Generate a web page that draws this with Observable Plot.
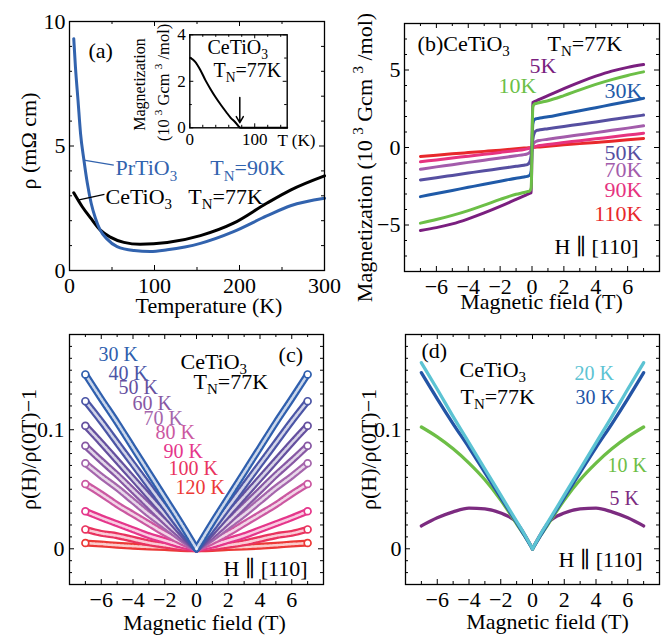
<!DOCTYPE html>
<html><head><meta charset="utf-8">
<script src="https://cdn.jsdelivr.net/npm/d3@7"></script>
<script src="https://cdn.jsdelivr.net/npm/@observablehq/plot@0.6"></script>
<style>
body{margin:0;background:#fff;}
#fig{position:relative;width:668px;height:636px;overflow:hidden;background:#fff;}
#fig > div{position:absolute;}
svg{overflow:visible;}
</style></head><body><div id="fig"></div>
<script>
// ---------------- DATA ----------------
// (a) resistivity vs temperature
const tempCe = [5, 15, 25, 36, 48, 64, 83, 115, 154, 193, 232, 260, 300];
const rhoCe  = [3.12, 2.56, 2.10, 1.63, 1.34, 1.13, 1.05, 1.12, 1.40, 1.90, 2.70, 3.23, 3.80];
const tempPr = [5, 7, 10, 13, 17, 21, 25.5, 30.5, 36, 44, 56, 76, 95, 115, 154, 193, 232, 260, 300];
const rhoPr  = [9.31, 8.17, 6.84, 5.50, 4.43, 3.50, 2.70, 2.10, 1.63, 1.27, 0.96, 0.80, 0.76, 0.83, 1.09, 1.56, 2.19, 2.60, 2.90];
// (a) inset: magnetization vs T
const insetT = [1, 8, 16, 24, 32, 40, 48, 56, 63, 70, 75, 78, 100, 150];
const insetM = [3.01, 2.85, 2.5, 2.05, 1.66, 1.3, 0.98, 0.68, 0.43, 0.24, 0.07, 0, 0, 0];
const insetArrow = [{T: 77, from: 1.3, to: 0.22}];

// (b) magnetization vs field
const fieldB = [-7,-6,-5,-4,-3,-2,-1,-0.5,-0.3,-0.15,-0.05,0,0.05,0.15,0.3,0.5,1,2,3,4,5,6,7];
const mag5K  = [-5.35,-5.17,-4.93,-4.60,-4.22,-3.80,-3.35,-3.12,-3.03,-2.96,-2.90,0,2.90,2.96,3.03,3.12,3.35,3.80,4.22,4.60,4.93,5.17,5.35];
const mag10K = [-4.88,-4.65,-4.38,-4.07,-3.72,-3.35,-3.02,-2.90,-2.85,-2.80,-2.60,0,2.60,2.80,2.85,2.90,3.02,3.35,3.72,4.07,4.38,4.65,4.88];
const mag30K = [-3.17,-2.97,-2.77,-2.57,-2.37,-2.18,-1.98,-1.90,-1.86,-1.80,-1.50,0,1.50,1.80,1.86,1.90,1.98,2.18,2.37,2.57,2.77,2.97,3.17];
const mag50K = [-2.09,-1.95,-1.80,-1.65,-1.50,-1.36,-1.21,-1.14,-1.10,-0.95,-0.50,0,0.50,0.95,1.10,1.14,1.21,1.36,1.50,1.65,1.80,1.95,2.09];
const mag70K = [-1.40,-1.25,-1.11,-0.96,-0.82,-0.68,-0.53,-0.46,-0.41,-0.32,-0.15,0,0.15,0.32,0.41,0.46,0.53,0.68,0.82,0.96,1.11,1.25,1.40];
const mag90K = [-0.92,-0.80,-0.68,-0.56,-0.44,-0.32,-0.20,-0.13,-0.09,-0.05,-0.02,0,0.02,0.05,0.09,0.13,0.20,0.32,0.44,0.56,0.68,0.80,0.92];
const mag110K= [-0.58,-0.50,-0.41,-0.33,-0.25,-0.17,-0.08,-0.04,-0.025,-0.012,-0.004,0,0.004,0.012,0.025,0.04,0.08,0.17,0.25,0.33,0.41,0.50,0.58];

// (c) magnetoresistance, 30 K ... 120 K
const fieldC = [-7,-6,-5,-4,-3,-2,-1,0,1,2,3,4,5,6,7];
const mrC30  = [.1465,.126,.106,.085,.064,.043,.022,0,.022,.043,.064,.085,.106,.126,.1465];
const mrC40  = [.124,.107,.089,.071,.053,.035,.017,0,.017,.035,.053,.071,.089,.107,.124];
const mrC50  = [.1034,.089,.074,.059,.044,.029,.014,0,.014,.029,.044,.059,.074,.089,.1034];
const mrC60  = [.0865,.074,.062,.049,.036,.023,.011,0,.011,.023,.036,.049,.062,.074,.0865];
const mrC70  = [.0718,.061,.051,.040,.029,.019,.009,0,.009,.019,.029,.040,.051,.061,.0718];
const mrC80  = [.0544,.046,.037,.029,.021,.013,.006,0,.006,.013,.021,.029,.037,.046,.0544];
const mrC90  = [.0315,.026,.021,.016,.011,.007,.003,0,.003,.007,.011,.016,.021,.026,.0315];
const mrC100 = [.0163,.013,.011,.008,.005,.003,.001,0,.001,.003,.005,.008,.011,.013,.0163];
const mrC120 = [.0048,.004,.003,.0022,.0015,.001,.0003,0,.0003,.001,.0015,.0022,.003,.004,.0048];
const labelsCtemps = ["30 K","40 K","50 K","60 K","70 K","80 K","90 K","100 K","120 K"];

// (d) magnetoresistance, 5 K ... 30 K
const fieldD = [-7,-6,-5,-4,-3,-2,-1,-0.5,0,0.5,1,2,3,4,5,6,7];
const mrD5   = [.0192,.026,.031,.0342,.0335,.030,.022,.012,0,.012,.022,.030,.0335,.0342,.031,.026,.0192];
const mrD10  = [.1023,.094,.084,.072,.058,.041,.021,.011,0,.011,.021,.041,.058,.072,.084,.094,.1023];
const mrD20  = [.1563,.134,.111,.089,.067,.045,.023,.012,0,.012,.023,.045,.067,.089,.111,.134,.1563];
const mrD30  = [.1479,.126,.105,.085,.064,.043,.022,.011,0,.011,.022,.043,.064,.085,.105,.126,.1479];

// tick values
const ticksA_x = [0,100,200,300], ticksA_xMinor = [50,150,250];
const ticksA_y = [0,5,10], ticksA_yMinor = [1,2,3,4,6,7,8,9];
const ticksH = [-6,-4,-2,0,2,4,6], ticksH_minor = [-7,-5,-3,-1,1,3,5,7];
const ticksB_y = [-5,0,5], ticksB_yMinor = [-7,-6,-4,-3,-2,-1,1,2,3,4,6,7];
const ticksMR = [0,0.1], ticksMR_minor = [-0.02,-0.01,0.01,0.02,0.03,0.04,0.05,0.06,0.07,0.08,0.09,0.11,0.12,0.13,0.14,0.15,0.16,0.17];
const ticksIn_x = [0,100], ticksIn_xMinor = [20,40,60,80,120,140];
const ticksIn_y = [0,2,4], ticksIn_yMinor = [1,3];

// ---------------- HELPERS ----------------
const SERIF = '"Liberation Serif","DejaVu Serif",serif';
const fig = document.getElementById("fig");
const fmt = d => (d < 0 ? "\u2212" + Math.abs(d) : String(d));
const MID = {textAnchor: "middle", lineAnchor: "middle"};

function richify(svg) {
  svg.querySelectorAll("text").forEach(t => {
    if (t.querySelector("tspan")) return;
    const s = t.textContent;
    if (!/[_^]/.test(s)) return;
    const fs = parseFloat(getComputedStyle(t).fontSize) || 20;
    t.textContent = "";
    const re = /([_^])\{([^}]*)\}|([_^])([^_^])|([^_^]+)/g;
    let m, shift = 0;
    while ((m = re.exec(s))) {
      const ts = document.createElementNS("http://www.w3.org/2000/svg", "tspan");
      let txt, target = 0, small = false;
      if (m[5] !== undefined) txt = m[5];
      else { const k = m[1] || m[3]; txt = m[2] !== undefined ? m[2] : m[4]; target = k === "_" ? 0.25 * fs : -0.4 * fs; small = true; }
      const dy = target - shift; shift = target;
      if (dy) ts.setAttribute("dy", dy.toFixed(2));
      if (small) ts.setAttribute("font-size", (0.68 * fs).toFixed(2));
      ts.textContent = txt;
      t.appendChild(ts);
    }
  });
}

function boxTicks(xMaj, xMin, yMaj, yMin, FW, FH, maj = 5, mn = 3, sw = 1) {
  const o = {stroke: "#000", strokeWidth: sw};
  const m = [];
  for (const [vals, len] of [[xMaj, maj], [xMin, mn]]) {
    m.push(Plot.tickX(vals, {x: d => d, insetTop: FH - len, ...o}));
    m.push(Plot.tickX(vals, {x: d => d, insetBottom: FH - len, ...o}));
  }
  for (const [vals, len] of [[yMaj, maj], [yMin, mn]]) {
    m.push(Plot.tickY(vals, {y: d => d, insetRight: FW - len, ...o}));
    m.push(Plot.tickY(vals, {y: d => d, insetLeft: FW - len, ...o}));
  }
  return m;
}

function place(svg, left, top) {
  const div = document.createElement("div");
  div.style.left = left + "px"; div.style.top = top + "px";
  div.appendChild(svg); fig.appendChild(div); richify(svg);
}

function pplot(opts) {
  return Plot.plot({
    ...opts,
    style: {fontFamily: SERIF, fontSize: "22px", background: "transparent", overflow: "visible", color: "#000"}
  });
}

const zip = (xs, ys, xk, yk) => xs.map((x, i) => ({[xk]: x, [yk]: ys[i]}));
const branches = (xs, ys) => {
  const r = [];
  xs.forEach((x, i) => {
    if (x <= 0) r.push({H: x, v: ys[i], side: "L"});
    if (x >= 0) r.push({H: x, v: ys[i], side: "R"});
  });
  return r;
};

// ---------------- PANEL (a) ----------------
{
  const ml = 69, mr = 10, mt = 21, mb = 48, W = 334, H = 318;
  const FW = W - ml - mr, FH = H - mt - mb;
  const BLUE = "#3263ae";
  const leaders = [
    {x1: 16.8, y1: 4.43, x2: 52.1, y2: 4.23, c: BLUE},
    {x1: 9.8, y1: 2.83, x2: 41.1, y2: 3.06, c: "#000"}
  ];
  const labels = [
    {t: "(a)", x: 22.3, y: 8.80, c: "#000"},
    {t: "PrTiO_3", x: 54.1, y: 4.10, c: BLUE},
    {t: "T_N=90K", x: 165.7, y: 4.10, c: BLUE},
    {t: "CeTiO_3", x: 42.3, y: 2.97, c: "#000"},
    {t: "T_N=77K", x: 139.8, y: 2.97, c: "#000"}
  ];
  const svg = pplot({
    width: W, height: H, marginLeft: ml, marginRight: mr, marginTop: mt, marginBottom: mb,
    x: {domain: [0, 300]}, y: {domain: [0, 10]},
    marks: [
      ...boxTicks(ticksA_x, ticksA_xMinor, ticksA_y, ticksA_yMinor, FW, FH),
      Plot.line(zip(tempCe, rhoCe, "T", "rho"), {x: "T", y: "rho", stroke: "#000", strokeWidth: 3, curve: "monotone-x"}),
      Plot.line(zip(tempPr, rhoPr, "T", "rho"), {x: "T", y: "rho", stroke: BLUE, strokeWidth: 3, curve: "monotone-x"}),
      ...leaders.map(d => Plot.link([d], {x1: "x1", y1: "y1", x2: "x2", y2: "y2", stroke: d.c, strokeWidth: 1.3})),
      ...labels.map(d => Plot.text([d], {x: "x", y: "y", text: "t", fill: d.c, textAnchor: "start", lineAnchor: "middle", fontSize: 22})),
      Plot.axisX({ticks: ticksA_x, tickSize: 0, tickPadding: 6.5, label: null, tickFormat: fmt}),
      Plot.axisY({ticks: ticksA_y, tickSize: 0, tickPadding: 4, label: null, tickFormat: fmt}),
      Plot.text(["Temperature (K)"], {frameAnchor: "bottom", dx: 12, dy: 35.5, fontSize: 22, ...MID}),
      Plot.text(["\u03c1 (m\u03a9 cm)"], {frameAnchor: "left", dx: -41, dy: -5, rotate: -90, fontSize: 22, ...MID}),
      Plot.frame({stroke: "#000", strokeWidth: 1.3})
    ]
  });
  place(svg, 0, 0);
}

// ---------------- INSET of (a) ----------------
{
  const W = 220, H = 150, ml = 79.3, mr = 43.3, mt = 24.3, mb = 32.7;
  const FW = W - ml - mr, FH = H - mt - mb;
  const svg = pplot({
    width: W, height: H, marginLeft: ml, marginRight: mr, marginTop: mt, marginBottom: mb,
    x: {domain: [0, 150]}, y: {domain: [0, 4]},
    marks: [
      Plot.frame({fill: "white", stroke: "none"}),
      ...boxTicks(ticksIn_x, ticksIn_xMinor, ticksIn_y, ticksIn_yMinor, FW, FH, 4, 2.5),
      Plot.line(zip(insetT, insetM, "T", "M"), {x: "T", y: "M", stroke: "#000", strokeWidth: 2, curve: "monotone-x"}),
      Plot.arrow(insetArrow, {x1: "T", x2: "T", y1: "from", y2: "to", stroke: "#000", strokeWidth: 1.5, headLength: 7}),
      Plot.text([{t: "CeTiO_3", x: 27.2, y: 3.47}, {t: "T_N=77K", x: 36.5, y: 2.44}],
        {x: "x", y: "y", text: "t", textAnchor: "start", lineAnchor: "middle", fontSize: 20}),
      Plot.axisX({ticks: ticksIn_x, tickSize: 0, tickPadding: 5.6, label: null, fontSize: 17, tickFormat: fmt}),
      Plot.axisY({ticks: ticksIn_y, tickSize: 0, tickPadding: 4, label: null, fontSize: 17, tickFormat: fmt}),
      Plot.text(["T (K)"], {x: () => 135, frameAnchor: "bottom", dy: 12.3, textAnchor: "start", lineAnchor: "middle", fontSize: 17}),
      Plot.text(["Magnetization"], {frameAnchor: "left", dx: -50.4, dy: 3.2, rotate: -90, fontSize: 16, ...MID}),
      Plot.text(["(10 ^3 Gcm ^3 /mol)"], {frameAnchor: "left", dx: -26.4, dy: 1.2, rotate: -90, fontSize: 16.5, ...MID}),
      Plot.frame({stroke: "#000", strokeWidth: 1.4})
    ]
  });
  place(svg, 110, 10);
}

// ---------------- PANEL (b) ----------------
{
  const ml = 70, mr = 9, mt = 23, mb = 47, W = 334, H = 318;
  const FW = W - ml - mr, FH = H - mt - mb;
  const seriesB = [
    {v: mag110K, c: "#e8282b"},
    {v: mag90K, c: "#e6337f"},
    {v: mag70K, c: "#a35cab"},
    {v: mag50K, c: "#564fa1"},
    {v: mag30K, c: "#1f5aa8"},
    {v: mag5K, c: "#7a1f7f"},
    {v: mag10K, c: "#6cbf47"}
  ];
  const labels = [
    {t: "(b)CeTiO_3", x: -7.18, y: 6.71, c: "#000", a: "start"},
    {t: "T_N=77K", x: 0.97, y: 6.71, c: "#000", a: "start"},
    {t: "5K", x: -0.16, y: 5.23, c: "#7a1f7f", a: "start"},
    {t: "10K", x: -2.1, y: 4.0, c: "#6cbf47", a: "start"},
    {t: "30K", x: 6.93, y: 3.68, c: "#1f5aa8", a: "end"},
    {t: "50K", x: 6.93, y: -0.32, c: "#564fa1", a: "end"},
    {t: "70K", x: 6.93, y: -1.48, c: "#a35cab", a: "end"},
    {t: "90K", x: 6.93, y: -2.77, c: "#e6337f", a: "end"},
    {t: "110K", x: 6.93, y: -4.26, c: "#e8282b", a: "end"},
    {t: "H \u2225 [110]", x: 6.68, y: -6.39, c: "#000", a: "end"}
  ];
  const svg = pplot({
    width: W, height: H, marginLeft: ml, marginRight: mr, marginTop: mt, marginBottom: mb,
    x: {domain: [-8, 8]}, y: {domain: [-8, 8]},
    marks: [
      ...boxTicks(ticksH, ticksH_minor, ticksB_y, ticksB_yMinor, FW, FH),
      ...seriesB.map(s => Plot.line(zip(fieldB, s.v, "H", "M"), {x: "H", y: "M", stroke: s.c, strokeWidth: 3, curve: "monotone-x"})),
      ...labels.map(d => Plot.text([d], {x: "x", y: "y", text: "t", fill: d.c, textAnchor: d.a, lineAnchor: "middle", fontSize: 22})),
      Plot.axisX({ticks: ticksH, tickSize: 0, tickPadding: 7, label: null, tickFormat: fmt}),
      Plot.axisY({ticks: ticksB_y, tickSize: 0, tickPadding: 4, label: null, tickFormat: fmt}),
      Plot.text(["Magnetic field (T)"], {frameAnchor: "bottom", dx: 9.5, dy: 30.5, fontSize: 22, ...MID}),
      Plot.text(["Magnetization (10 ^3 Gcm ^3 /mol)"], {frameAnchor: "left", dx: -40, dy: 10, rotate: -90, fontSize: 22, ...MID}),
      Plot.frame({stroke: "#000", strokeWidth: 1.3})
    ]
  });
  place(svg, 334, 0);
}

// ---------------- PANEL (c) ----------------
{
  const ml = 69, mr = 11, mt = 16, mb = 52, W = 334, H = 318;
  const FW = W - ml - mr, FH = H - mt - mb;
  const colorsC = ["#2f5fae","#4b55a6","#65509f","#8758a4","#a566ac","#cb58a1","#e5368b","#e9335f","#ec3937"];
  const valsC = [mrC30, mrC40, mrC50, mrC60, mrC70, mrC80, mrC90, mrC100, mrC120];
  const posC = [[-6.17,.1628],[-5.54,.1468],[-4.91,.1356],[-4.03,.1216],[-3.34,.1096],[-2.58,.0972],[-2.08,.0816],[-1.76,.0670],[-1.32,.0516]];
  const marks = [...boxTicks(ticksH, ticksH_minor, ticksMR, ticksMR_minor, FW, FH)];
  for (let i = valsC.length - 1; i >= 0; i--) {
    const rows = branches(fieldC, valsC[i]);
    const c = colorsC[i];
    marks.push(Plot.line(rows, {x: "H", y: "v", z: "side", stroke: c, strokeWidth: 7, curve: "monotone-x"}));
    marks.push(Plot.line(rows, {x: "H", y: "v", z: "side", stroke: "white", strokeWidth: 2.6, strokeOpacity: 0.75, strokeDasharray: "2.2,1.4", curve: "monotone-x"}));
    marks.push(Plot.dot(rows.filter(d => Math.abs(d.H) === 7), {x: "H", y: "v", r: 3.4, stroke: c, fill: "white", strokeWidth: 1.7}));
  }
  labelsCtemps.forEach((t, i) => marks.push(Plot.text([{t, x: posC[i][0], y: posC[i][1]}], {x: "x", y: "y", text: "t", fill: colorsC[i], textAnchor: "start", lineAnchor: "middle", fontSize: 20})));
  marks.push(
    Plot.text([{t: "CeTiO_3", x: -1.01, y: .1571}, {t: "T_N=77K", x: -0.19, y: .1403}, {t: "(c)", x: 5.17, y: .1630}],
      {x: "x", y: "y", text: "t", textAnchor: "start", lineAnchor: "middle", fontSize: 22}),
    Plot.text([{t: "H \u2225 [110]", x: 6.99, y: -0.0168}], {x: "x", y: "y", text: "t", textAnchor: "end", lineAnchor: "middle", fontSize: 22}),
    Plot.axisX({ticks: ticksH, tickSize: 0, tickPadding: 7, label: null, tickFormat: fmt}),
    Plot.axisY({ticks: ticksMR, tickSize: 0, tickPadding: 5, label: null, tickFormat: fmt}),
    Plot.text(["Magnetic field (T)"], {frameAnchor: "bottom", dx: 8, dy: 38, fontSize: 22, ...MID}),
    Plot.text(["\u03c1(H)/\u03c1(0T)\u22121"], {frameAnchor: "left", dx: -41, dy: -10, rotate: -90, fontSize: 22, ...MID}),
    Plot.frame({stroke: "#000", strokeWidth: 1.3})
  );
  const svg = pplot({
    width: W, height: H, marginLeft: ml, marginRight: mr, marginTop: mt, marginBottom: mb,
    x: {domain: [-8, 8]}, y: {domain: [-0.03, 0.18]}, marks
  });
  place(svg, 0, 318);
}

// ---------------- PANEL (d) ----------------
{
  const ml = 71, mr = 9, mt = 16, mb = 52, W = 334, H = 318;
  const FW = W - ml - mr, FH = H - mt - mb;
  const seriesD = [
    {v: mrD5, c: "#7c2b80"},
    {v: mrD10, c: "#6dbe46"},
    {v: mrD30, c: "#2354a5"},
    {v: mrD20, c: "#5cc3d3"}
  ];
  const labels = [
    {t: "20 K", x: 2.65, y: .1468, c: "#5cc3d3"},
    {t: "30 K", x: 2.71, y: .1272, c: "#2354a5"},
    {t: "10 K", x: 4.72, y: .0701, c: "#6dbe46"},
    {t: "5 K", x: 4.85, y: .0418, c: "#7c2b80"}
  ];
  const svg = pplot({
    width: W, height: H, marginLeft: ml, marginRight: mr, marginTop: mt, marginBottom: mb,
    x: {domain: [-8, 8]}, y: {domain: [-0.03, 0.18]},
    marks: [
      ...boxTicks(ticksH, ticksH_minor, ticksMR, ticksMR_minor, FW, FH),
      ...seriesD.map(s => Plot.line(branches(fieldD, s.v), {x: "H", y: "v", z: "side", stroke: s.c, strokeWidth: 3.3, curve: "monotone-x"})),
      ...labels.map(d => Plot.text([d], {x: "x", y: "y", text: "t", fill: d.c, textAnchor: "start", lineAnchor: "middle", fontSize: 20})),
      Plot.text([{t: "(d)", x: -6.99, y: .1661}, {t: "CeTiO_3", x: -4.60, y: .1504}, {t: "T_N=77K", x: -4.54, y: .1277}],
        {x: "x", y: "y", text: "t", textAnchor: "start", lineAnchor: "middle", fontSize: 22}),
      Plot.text([{t: "H \u2225 [110]", x: 6.93, y: -0.0092}], {x: "x", y: "y", text: "t", textAnchor: "end", lineAnchor: "middle", fontSize: 22}),
      Plot.axisX({ticks: ticksH, tickSize: 0, tickPadding: 7, label: null, tickFormat: fmt}),
      Plot.axisY({ticks: ticksMR, tickSize: 0, tickPadding: 4, label: null, tickFormat: fmt}),
      Plot.text(["Magnetic field (T)"], {frameAnchor: "bottom", dx: 15, dy: 37.5, fontSize: 22, ...MID}),
      Plot.text(["\u03c1(H)/\u03c1(0T)\u22121"], {frameAnchor: "left", dx: -37, dy: -10, rotate: -90, fontSize: 22, ...MID}),
      Plot.frame({stroke: "#000", strokeWidth: 1.3})
    ]
  });
  place(svg, 334, 318);
}
</script></body></html>
